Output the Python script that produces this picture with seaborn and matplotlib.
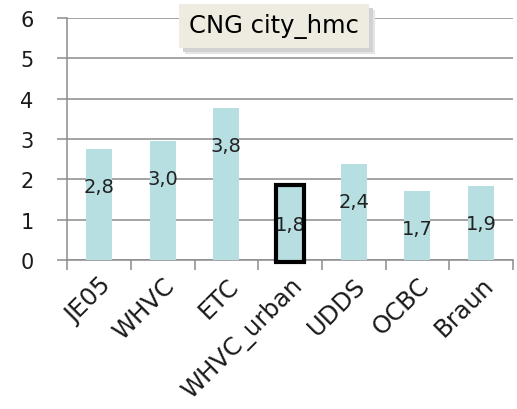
import numpy as np
import pandas as pd
import matplotlib
matplotlib.use('Agg')
import matplotlib.pyplot as plt
import seaborn as sns
from matplotlib.patches import Rectangle
from matplotlib.transforms import IdentityTransform

# data
cycles = ['JE05', 'WHVC', 'ETC', 'WHVC_urban', 'UDDS', 'OCBC', 'Braun']
values = [2.76, 2.95, 3.77, 1.81, 2.39, 1.71, 1.84]
labels = ['2,8', '3,0', '3,8', '1,8', '2,4', '1,7', '1,9']
highlight = 'WHVC_urban'
title = 'CNG city_hmc'

df = pd.DataFrame({'cycle': cycles, 'value': values, 'label': labels})

sns.set_style('white')
plt.rcParams['font.family'] = ['DejaVu Sans']

fig = plt.figure(figsize=(5.17, 4.10), dpi=100)
ax = fig.add_axes([0.13, 0.363, 0.862, 0.591])

sns.barplot(data=df, x='cycle', y='value', color='#B7DEE1', width=0.41,
            saturation=1, linewidth=0, ax=ax, zorder=3)

# value labels sit inside the bars, a bit below the top
for i, row in df.iterrows():
    ax.annotate(row['label'], (i, row['value']), xytext=(0, -27),
                textcoords='offset points', ha='center', va='center',
                fontsize=14, color='#222222', zorder=5)

# black frame around the highlighted cycle
hi = cycles.index(highlight)
ax.add_patch(Rectangle((hi - 0.215, -0.04), 0.43, values[hi] + 0.1,
                       fill=False, edgecolor='black', linewidth=3,
                       zorder=6, clip_on=False))

ax.set_ylim(0, 6)
ax.set_xlim(-0.5, len(cycles) - 0.5)
ax.set_yticks(range(0, 7))
ax.yaxis.grid(True, color='#8c8c8c', linewidth=1.1, zorder=0)
ax.set_axisbelow(True)
ax.set_xlabel('')
ax.set_ylabel('')

for side in ['top', 'right']:
    ax.spines[side].set_visible(False)
for side in ['left', 'bottom']:
    ax.spines[side].set_color('#8c8c8c')
    ax.spines[side].set_linewidth(1.1)

ax.tick_params(axis='y', which='major', length=7, width=1.1, color='#8c8c8c',
               labelsize=15, pad=22, direction='out', left=True,
               labelcolor='#1a1a1a')
for t in ax.get_yticklabels():
    t.set_horizontalalignment('center')
ax.set_xticks(np.arange(len(cycles)))
ax.set_xticklabels(cycles, rotation=45, ha='right', rotation_mode='anchor',
                   fontsize=17.5, color='#1a1a1a')
ax.tick_params(axis='x', which='major', length=0, pad=9)
ax.set_xticks(np.arange(len(cycles) + 1) - 0.5, minor=True)
ax.tick_params(axis='x', which='minor', length=7, width=1.1, color='#8c8c8c',
               direction='out', bottom=True)

# title in a beige box with a soft shadow
ttl = ax.text(0.464, 0.967, title, transform=ax.transAxes, ha='center',
              va='center', fontsize=17.5, color='black', zorder=10,
              bbox=dict(boxstyle='square,pad=0.4', facecolor='#EEECE1',
                        edgecolor='none'))
fig.canvas.draw()
bb = ttl.get_bbox_patch().get_window_extent()
for off, col in [(6, '#e6e6e6'), (4, '#d2d2d2')]:
    ax.add_patch(Rectangle((bb.x0 + off, bb.y0 - off), bb.width, bb.height,
                           transform=IdentityTransform(), facecolor=col,
                           edgecolor='none', zorder=9, clip_on=False))

fig.savefig('out.png', dpi=100, facecolor='white')
